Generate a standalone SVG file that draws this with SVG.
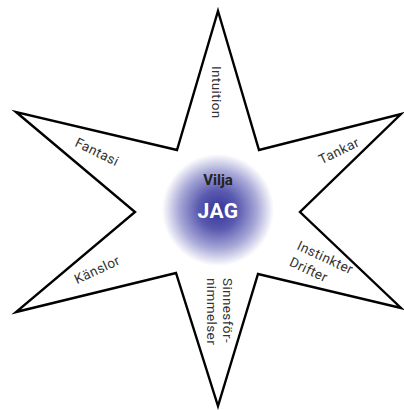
<svg xmlns="http://www.w3.org/2000/svg" width="404" height="410" viewBox="0 0 404 410">
  <defs>
    <radialGradient id="glow" cx="0.5" cy="0.5" r="0.5">
      <stop offset="0" stop-color="#34349a"/>
      <stop offset="0.35" stop-color="#5a5ab0"/>
      <stop offset="0.7" stop-color="#a9a9d8"/>
      <stop offset="1" stop-color="#ffffff"/>
    </radialGradient>
  </defs>
  <style>
    .lbl { font-family: Roboto, "Liberation Sans", sans-serif; font-size: 13.5px; fill: #333333; letter-spacing: 0.4px; }
    .star { fill: #ffffff; stroke: #000000; stroke-width: 2.4; stroke-linejoin: miter; stroke-miterlimit: 20; }
  </style>
  <rect width="404" height="410" fill="#ffffff"/>
  <g id="star">
    <polygon class="star" points="218,11 259,150 401,114 300,212 401,308 258,274 218,406 176,273 16,312 135,212 16,112 177,150"/>
  </g>
  <g id="jag">
    <circle cx="218" cy="210" r="56" fill="url(#glow)"/>
    <text x="218" y="185" text-anchor="middle" font-family="Roboto, 'Liberation Sans', sans-serif" font-weight="bold" font-size="15" fill="#222222">Vilja</text>
    <text x="218" y="218" text-anchor="middle" font-family="Roboto, 'Liberation Sans', sans-serif" font-weight="bold" font-size="21" letter-spacing="0.5" fill="#ffffff">JAG</text>
  </g>
  <g id="intuition">
    <text class="lbl" transform="translate(212,66) rotate(90)">Intuition</text>
  </g>
  <g id="fantasi">
    <text class="lbl" text-anchor="middle" transform="translate(95,156) rotate(26)">Fantasi</text>
  </g>
  <g id="tankar">
    <text class="lbl" text-anchor="middle" transform="translate(341,155) rotate(-26)">Tankar</text>
  </g>
  <g id="kanslor">
    <text class="lbl" text-anchor="middle" transform="translate(99,274) rotate(-25)">Känslor</text>
  </g>
  <g id="instinkter">
    <text class="lbl" transform="translate(296,249) rotate(25)">
      <tspan x="0" y="0">Instinkter</tspan>
      <tspan x="0" y="18">Drifter</tspan>
    </text>
  </g>
  <g id="sinnes">
    <text class="lbl" transform="translate(223,278) rotate(90)">
      <tspan x="0" y="0">Sinnesför-</tspan>
      <tspan x="0" y="16">nimmelser</tspan>
    </text>
  </g>
  <g id="connectors"/>
</svg>
